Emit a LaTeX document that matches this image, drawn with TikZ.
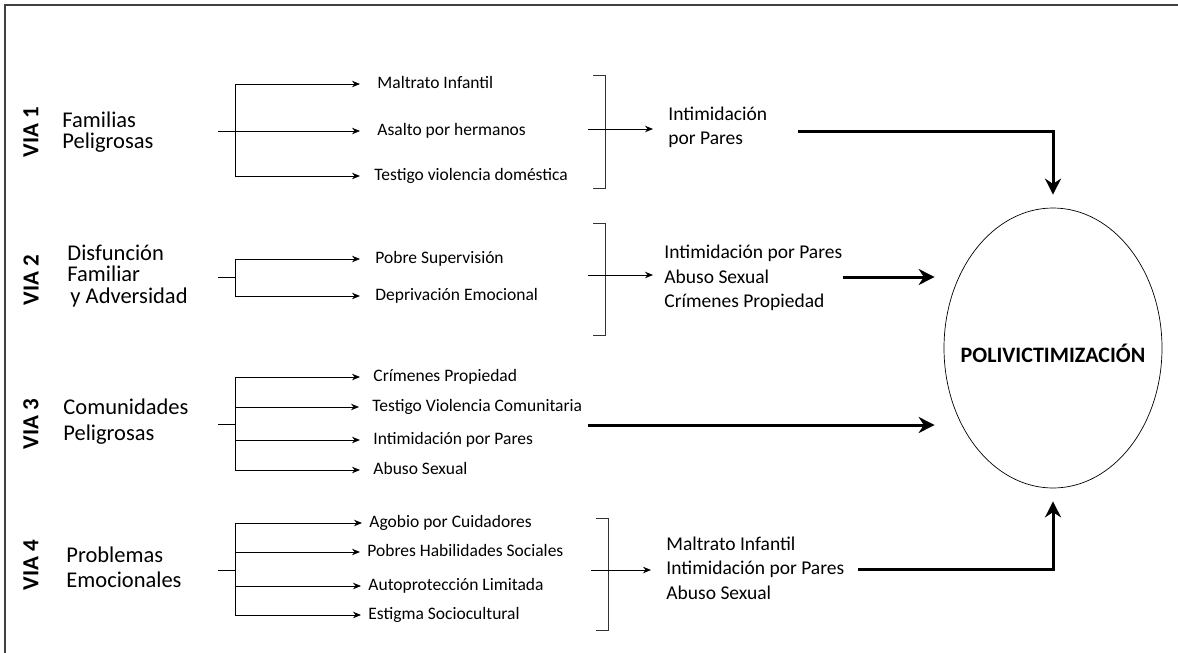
\documentclass[tikz,border=0pt]{standalone}
\usepackage{fontspec}
\setmainfont{Carlito}
\usetikzlibrary{arrows.meta, shapes.geometric}

\begin{document}
\begin{tikzpicture}[x=1pt, y=-1pt, line width=0.9pt,
  via/.style={rotate=90, inner sep=0, font=\fontsize{23}{26}\selectfont\bfseries},
  group/.style={anchor=west, inner sep=0, align=left, font=\fontsize{22.5}{#1}\selectfont},
  group/.default=22,
  item/.style={anchor=west, inner sep=0, text height=12.5pt, text depth=3.8pt, font=\fontsize{17.5}{21}\selectfont},
  result/.style={anchor=west, inner sep=0, align=left, font=\fontsize{19.5}{#1}\selectfont},
  result/.default=24.5,
  branch/.style={-{Stealth[length=8pt, width=6.5pt]}, line width=0.9pt},
  bracket/.style={line width=0.7pt, draw=black!80},
  bigarrow/.style={-{Stealth[length=16pt, width=16pt]}, line width=3pt}]

  \useasboundingbox (0,0) rectangle (1178,653);
  \draw[line width=1.5pt, black!75] (5,653) -- (5,5) -- (1178,5);

  % target
  \node[draw, ellipse, line width=0.7pt, inner sep=0,
    minimum width=218pt,
    minimum height=280pt] (poli) at (1053,348) {};
  \node[font=\fontsize{22}{26}\selectfont\bfseries, inner sep=0] (politxt) at (1053,353) {POLIVICTIMIZACIÓN};

  % via 1
  \node[via] (via1) at (31,132) {VIA 1};
  \node[group=21] (fam) at (62,132) {Familias\\Peligrosas};
  \node[item] (mal) at (377,84) {Maltrato Infantil};
  \node[item] (asa) at (377,131) {Asalto por hermanos};
  \node[item] (tdo) at (374,176) {Testigo violencia doméstica};

  \coordinate (in1) at (218,131);
  \coordinate (j1) at (235,131);
  \draw (in1) -- (j1);
  \foreach \n in {mal, asa} \draw[branch, shorten >=17pt] (j1) |- (\n.west);
  \draw[branch, shorten >=14pt] (j1) |- (tdo.west);

  \draw[bracket] (593,75) -| (605,188) -- (593,188);
  \node[result=24] (res1) at (668,127) {Intimidación\\por Pares};
  \coordinate (t1) at (588,129);
  \draw[branch, shorten >=15pt] (t1) -- (t1 -| res1.west);

  \coordinate (o1) at (798,131);
  \draw[bigarrow, shorten >=13pt] (o1) -| (poli.north);

  % via 2
  \node[via] (via2) at (31,280) {VIA 2};
  \node[group=21.5] (dis) at (67,276) {Disfunción\\Familiar\\\hspace{3pt}y Adversidad};
  \node[item] (sup) at (375,259) {Pobre Supervisión};
  \node[item] (dep) at (375,296) {Deprivación Emocional};

  \coordinate (in2) at (218,277);
  \coordinate (j2) at (235,277);
  \draw (in2) -- (j2);
  \foreach \n in {sup, dep} \draw[branch, shorten >=15pt] (j2) |- (\n.west);

  \draw[bracket] (593,223) -| (605,335) -- (593,335);
  \node[result] (res2) at (664,278) {Intimidación por Pares\\Abuso Sexual\\Crímenes Propiedad};
  \coordinate (t2) at (588,275);
  \draw[branch, shorten >=11pt] (t2) -- (t2 -| res2.west);

  \coordinate (o2) at (843,277);
  \draw[bigarrow, shorten >=9pt] (o2) -- (o2 -| poli.west);

  % via 3
  \node[via] (via3) at (31,424) {VIA 3};
  \node[group=26] (com) at (63,422) {Comunidades\\Peligrosas};
  \node[item] (cri) at (373,377) {Crímenes Propiedad};
  \node[item] (tvc) at (372,407) {Testigo Violencia Comunitaria};
  \node[item] (int) at (373,440) {Intimidación por Pares};
  \node[item] (abu) at (373,470) {Abuso Sexual};

  \coordinate (in3) at (218,424);
  \coordinate (j3) at (235,424);
  \draw (in3) -- (j3);
  \foreach \n in {cri, tvc, int, abu} \draw[branch, shorten >=13pt] (j3) |- (\n.west);

  \coordinate (o3) at (588,425);
  \draw[bigarrow, shorten >=9pt] (o3) -- (o3 -| poli.west);

  % via 4
  \node[via] (via4) at (31,565) {VIA 4};
  \node[group=25] (pro) at (66,567) {Problemas\\Emocionales};
  \node[item] (ago) at (369,523) {Agobio por Cuidadores};
  \node[item] (hab) at (367,552) {Pobres Habilidades Sociales};
  \node[item] (aut) at (368,586) {Autoprotección Limitada};
  \node[item] (est) at (368,615) {Estigma Sociocultural};

  \coordinate (in4) at (218,570);
  \coordinate (j4) at (235,570);
  \draw (in4) -- (j4);
  \foreach \n in {ago, hab, aut, est} \draw[branch, shorten >=7pt] (j4) |- (\n.west);

  \draw[bracket] (596,518) -| (608,630) -- (596,630);
  \node[result] (res4) at (666,568) {Maltrato Infantil\\Intimidación por Pares\\Abuso Sexual};
  \coordinate (t4) at (591,570);
  \draw[branch, shorten >=15pt] (t4) -- (t4 -| res4.west);

  \coordinate (o4) at (858,569);
  \draw[bigarrow, shorten >=13pt] (o4) -| (poli.south);
\end{tikzpicture}
\end{document}
